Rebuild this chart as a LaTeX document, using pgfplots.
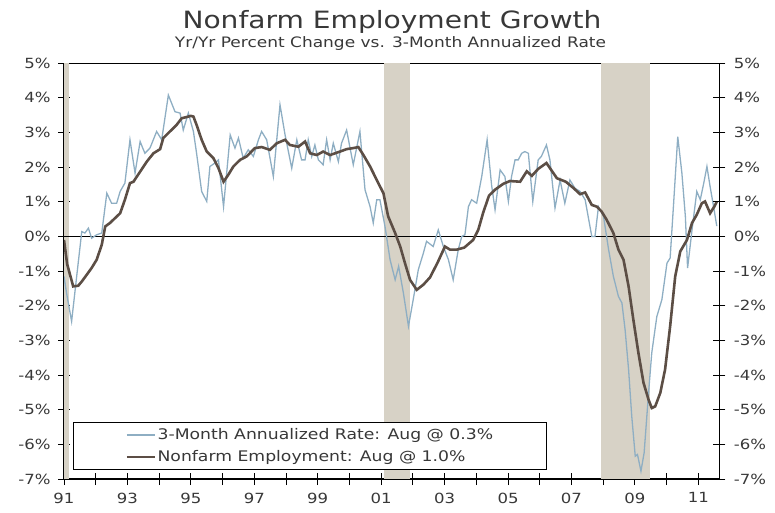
\documentclass[border=0pt]{standalone}
\usepackage{fontspec}
\setmainfont{DejaVu Sans}[FakeStretch=1.18]
\usepackage{pgfplots}
\pgfplotsset{compat=1.18}
\definecolor{rate}{HTML}{8EAEC3}
\definecolor{emp}{HTML}{5C4E45}
\definecolor{recess}{HTML}{D7D2C6}
\definecolor{txt}{HTML}{383838}

\pgfplotstableread{
x y
1991.00 -0.10
1991.10 -0.80
1991.29 -1.44
1991.45 -1.42
1991.56 -1.30
1991.72 -1.10
1991.87 -0.91
1992.03 -0.67
1992.19 -0.24
1992.30 0.29
1992.45 0.39
1992.61 0.53
1992.77 0.67
1992.92 1.06
1993.08 1.54
1993.19 1.58
1993.40 1.87
1993.61 2.16
1993.82 2.40
1994.03 2.52
1994.13 2.84
1994.34 3.03
1994.55 3.22
1994.71 3.41
1994.92 3.46
1995.00 3.48
1995.08 3.46
1995.18 3.22
1995.34 2.79
1995.50 2.45
1995.71 2.26
1995.87 1.97
1996.03 1.58
1996.18 1.78
1996.34 2.02
1996.55 2.21
1996.76 2.31
1997.02 2.55
1997.23 2.58
1997.49 2.50
1997.71 2.69
1997.97 2.79
1998.12 2.64
1998.39 2.59
1998.60 2.74
1998.76 2.40
1998.97 2.35
1999.17 2.45
1999.39 2.35
1999.70 2.45
1999.91 2.52
2000.12 2.55
2000.28 2.58
2000.44 2.35
2000.65 2.02
2000.86 1.63
2001.07 1.25
2001.22 0.58
2001.44 0.10
2001.60 -0.29
2001.75 -0.77
2001.91 -1.25
2002.12 -1.54
2002.33 -1.39
2002.54 -1.18
2002.78 -0.75
2003.01 -0.29
2003.17 -0.38
2003.38 -0.38
2003.62 -0.32
2003.90 -0.10
2004.06 0.19
2004.22 0.70
2004.40 1.18
2004.59 1.35
2004.85 1.52
2005.06 1.60
2005.38 1.58
2005.59 1.88
2005.75 1.75
2005.95 1.95
2006.21 2.12
2006.54 1.68
2006.82 1.58
2007.06 1.40
2007.27 1.22
2007.43 1.27
2007.64 0.91
2007.80 0.86
2007.95 0.72
2008.11 0.48
2008.32 0.10
2008.48 -0.38
2008.64 -0.67
2008.80 -1.44
2008.95 -2.40
2009.11 -3.36
2009.27 -4.22
2009.43 -4.71
2009.53 -4.95
2009.64 -4.90
2009.80 -4.51
2009.95 -3.84
2010.11 -2.59
2010.27 -1.15
2010.43 -0.43
2010.64 -0.10
2010.80 0.39
2010.95 0.63
2011.11 0.96
2011.21 1.01
2011.37 0.67
2011.50 0.86
2011.58 1.00
}\emptab

\pgfplotstableread{
x y
1991.00 -1.15
1991.08 -1.63
1991.24 -2.45
1991.40 -1.15
1991.56 0.14
1991.66 0.10
1991.77 0.24
1991.87 -0.05
1992.03 0.05
1992.19 0.10
1992.35 1.25
1992.50 0.96
1992.66 0.96
1992.77 1.30
1992.92 1.54
1993.08 2.79
1993.24 1.83
1993.40 2.74
1993.55 2.40
1993.71 2.55
1993.92 3.03
1994.08 2.79
1994.29 4.08
1994.50 3.60
1994.66 3.56
1994.76 3.07
1994.92 3.56
1995.08 3.03
1995.18 2.40
1995.34 1.30
1995.50 1.01
1995.60 2.02
1995.76 2.12
1995.87 2.21
1996.03 0.86
1996.24 2.93
1996.39 2.55
1996.50 2.84
1996.65 2.26
1996.81 2.50
1996.97 2.31
1997.13 2.79
1997.23 3.03
1997.39 2.79
1997.60 1.73
1997.81 3.80
1997.97 2.93
1998.18 1.97
1998.34 2.79
1998.49 2.21
1998.60 2.21
1998.70 2.79
1998.81 2.31
1998.91 2.64
1999.02 2.21
1999.17 2.07
1999.28 2.79
1999.39 2.21
1999.49 2.69
1999.65 2.16
1999.75 2.69
1999.91 3.07
2000.12 2.07
2000.33 3.03
2000.49 1.35
2000.65 0.86
2000.75 0.39
2000.86 1.06
2000.96 1.06
2001.12 0.29
2001.28 -0.67
2001.44 -1.25
2001.55 -0.86
2001.70 -1.63
2001.86 -2.59
2002.01 -1.82
2002.17 -0.96
2002.33 -0.48
2002.43 -0.14
2002.64 -0.29
2002.80 0.19
2002.96 -0.29
2003.12 -0.67
2003.27 -1.25
2003.43 -0.38
2003.54 0.00
2003.64 0.05
2003.75 0.86
2003.85 1.06
2004.01 0.96
2004.17 1.73
2004.34 2.79
2004.48 1.49
2004.59 0.77
2004.75 1.92
2004.90 1.73
2005.01 1.01
2005.11 1.73
2005.22 2.21
2005.32 2.21
2005.43 2.40
2005.53 2.45
2005.64 2.40
2005.78 1.01
2005.95 2.21
2006.05 2.31
2006.21 2.64
2006.32 2.21
2006.48 0.82
2006.64 1.63
2006.79 0.96
2006.95 1.63
2007.11 1.39
2007.27 1.30
2007.43 1.06
2007.64 0.00
2007.74 0.00
2007.85 0.86
2008.01 0.58
2008.17 -0.38
2008.32 -1.15
2008.48 -1.73
2008.59 -1.92
2008.69 -2.69
2008.80 -3.84
2008.90 -5.19
2009.01 -6.34
2009.08 -6.29
2009.19 -6.77
2009.29 -6.24
2009.43 -4.51
2009.53 -3.36
2009.69 -2.31
2009.85 -1.82
2010.01 -0.77
2010.11 -0.62
2010.22 0.96
2010.35 2.88
2010.48 1.83
2010.59 0.58
2010.66 -0.91
2010.80 0.19
2010.95 1.30
2011.06 1.06
2011.17 1.54
2011.27 2.02
2011.37 1.44
2011.48 0.86
2011.58 0.30
}\ratetab

\begin{document}
\begin{tikzpicture}
\useasboundingbox (0pt,0pt) rectangle (775pt,513pt);
\node[txt, font=\fontsize{23.8}{28}\selectfont, anchor=base] at (392pt,484pt) {Nonfarm Employment Growth};
\node[txt, font=\fontsize{14.4}{17}\selectfont, anchor=base] at (390.5pt,465pt) {Yr/Yr Percent Change vs. 3-Month Annualized Rate};

\begin{axis}[
  at={(64pt,33.9pt)}, anchor=south west,
  width=655.3pt, height=415.9pt, scale only axis,
  xmin=1991, xmax=2011.66, ymin=-7, ymax=5,
  axis line style={black, line width=1.2pt},
  tick style={black, line width=1pt},
  tick align=center, major tick length=12pt,
  xtick={1991,...,2011},
  xticklabels={91,,93,,95,,97,,99,,01,,03,,05,,07,,09,,11},
  ytick={-7,...,5},
  yticklabels={-7\%,-6\%,-5\%,-4\%,-3\%,-2\%,-1\%,0\%,1\%,2\%,3\%,4\%,5\%},
  xtick pos=bottom, ytick pos=left,
  ticklabel style={txt, font=\fontsize{14}{16}\selectfont},
  xticklabel style={yshift=-4pt},
  yticklabel style={xshift=-4pt},
  legend style={at={(0.0137,0.0219)}, anchor=south west, draw=black, line width=1pt, fill=white,
    font=\fontsize{14.6}{17}\selectfont, inner xsep=52pt, inner ysep=4.5pt, row sep=6.5pt,
    nodes={inner xsep=1.5pt, inner ysep=1.5pt, text=txt}},
  legend cell align=left,
  legend image code/.code={\draw[#1] (0pt,0pt) -- (28pt,0pt);},
]
\addplot[fill=recess, draw=none, forget plot] coordinates {(1990.9,-7) (1991.17,-7) (1991.17,5) (1990.9,5)} -- cycle;
\addplot[fill=recess, draw=none, forget plot] coordinates {(2001.10,-7) (2001.92,-7) (2001.92,5) (2001.10,5)} -- cycle;
\addplot[fill=recess, draw=none, forget plot] coordinates {(2007.92,-7) (2009.49,-7) (2009.49,5) (2007.92,5)} -- cycle;
\addplot[black, line width=1.2pt, forget plot] coordinates {(1991,0) (2011.66,0)};
\addplot[rate, line width=1.3pt] table[x=x,y=y] {\ratetab};
\addlegendentry{3-Month Annualized Rate: Aug @ 0.3\%}
\addplot[emp, line width=2.6pt] table[x=x,y=y] {\emptab};
\addlegendentry{Nonfarm Employment: Aug @ 1.0\%}
\end{axis}

\begin{axis}[
  at={(64pt,33.9pt)}, anchor=south west,
  width=655.3pt, height=415.9pt, scale only axis,
  xmin=1991, xmax=2011.66, ymin=-7, ymax=5,
  axis x line=none, axis y line*=right,
  axis line style={black, line width=1.2pt},
  tick style={black, line width=1pt},
  tick align=center, major tick length=12pt,
  ytick={-7,...,5},
  yticklabels={-7\%,-6\%,-5\%,-4\%,-3\%,-2\%,-1\%,0\%,1\%,2\%,3\%,4\%,5\%},
  ticklabel style={txt, font=\fontsize{14}{16}\selectfont},
  yticklabel style={xshift=5pt},
]
\end{axis}
\end{tikzpicture}
\end{document}
